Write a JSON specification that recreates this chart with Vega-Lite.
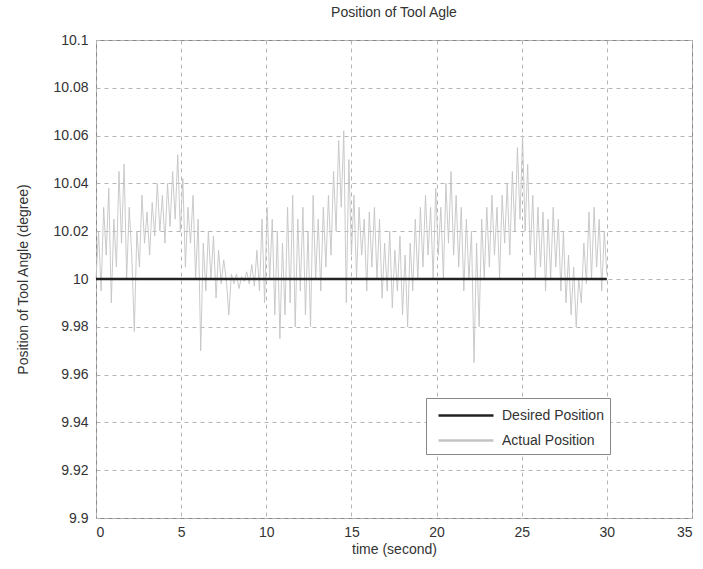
{
  "$schema": "https://vega.github.io/schema/vega-lite/v6.json",
  "autosize": "none",
  "width": 596,
  "height": 478,
  "padding": {"left": 96, "top": 40, "right": 11, "bottom": 51},
  "background": "white",
  "title": {"text": "Position of Tool Agle", "fontSize": 14, "fontWeight": "normal", "font": "Liberation Sans", "color": "#333", "offset": 13},
  "config": {
    "view": {"stroke": "#888", "strokeWidth": 1},
    "axis": {"font": "Liberation Sans", "labelFont": "Liberation Sans", "titleFont": "Liberation Sans", "labelFontSize": 14, "titleFontSize": 14, "titleFontWeight": "normal", "labelColor": "#333", "titleColor": "#333", "domain": false, "ticks": false, "gridColor": "#b5b5b5", "gridDash": [4, 4], "gridWidth": 1}
  },
  "datasets": {
    "desired": [{"t": 0, "v": 10}, {"t": 30, "v": 10}],
    "actual": [
      {"t":0.00,"v":10.000},{"t":0.15,"v":10.020},{"t":0.30,"v":9.995},{"t":0.45,"v":10.030},{"t":0.60,"v":10.010},{"t":0.75,"v":10.038},{"t":0.90,"v":9.990},{"t":1.05,"v":10.025},{"t":1.20,"v":10.005},{"t":1.35,"v":10.045},
      {"t":1.50,"v":10.015},{"t":1.65,"v":10.048},{"t":1.80,"v":10.000},{"t":1.95,"v":10.030},{"t":2.10,"v":10.010},{"t":2.25,"v":9.978},{"t":2.40,"v":10.020},{"t":2.55,"v":10.005},{"t":2.70,"v":10.035},{"t":2.85,"v":10.015},
      {"t":3.00,"v":10.028},{"t":3.15,"v":10.010},{"t":3.30,"v":10.032},{"t":3.45,"v":10.018},{"t":3.60,"v":10.040},{"t":3.75,"v":10.020},{"t":3.90,"v":10.035},{"t":4.05,"v":10.015},{"t":4.20,"v":10.040},{"t":4.35,"v":10.022},
      {"t":4.50,"v":10.045},{"t":4.65,"v":10.025},{"t":4.80,"v":10.052},{"t":4.95,"v":10.020},{"t":5.10,"v":10.042},{"t":5.25,"v":10.005},{"t":5.40,"v":10.030},{"t":5.55,"v":10.015},{"t":5.70,"v":10.035},{"t":5.85,"v":10.000},
      {"t":6.00,"v":10.025},{"t":6.15,"v":9.970},{"t":6.30,"v":10.015},{"t":6.45,"v":9.995},{"t":6.60,"v":10.020},{"t":6.75,"v":10.000},{"t":6.90,"v":10.018},{"t":7.05,"v":9.992},{"t":7.20,"v":10.012},{"t":7.35,"v":9.998},
      {"t":7.50,"v":10.008},{"t":7.65,"v":10.000},{"t":7.80,"v":9.985},{"t":7.95,"v":10.002},{"t":8.10,"v":9.998},{"t":8.25,"v":10.002},{"t":8.40,"v":9.996},{"t":8.55,"v":10.001},{"t":8.70,"v":9.999},{"t":8.85,"v":10.003},
      {"t":9.00,"v":9.998},{"t":9.15,"v":10.006},{"t":9.30,"v":9.997},{"t":9.45,"v":10.012},{"t":9.60,"v":9.995},{"t":9.75,"v":10.025},{"t":9.90,"v":9.990},{"t":10.05,"v":10.030},{"t":10.20,"v":10.000},{"t":10.35,"v":10.025},
      {"t":10.50,"v":9.985},{"t":10.65,"v":10.020},{"t":10.80,"v":9.975},{"t":10.95,"v":10.015},{"t":11.10,"v":9.985},{"t":11.25,"v":10.030},{"t":11.40,"v":9.990},{"t":11.55,"v":10.035},{"t":11.70,"v":9.980},{"t":11.85,"v":10.025},
      {"t":12.00,"v":9.995},{"t":12.15,"v":10.030},{"t":12.30,"v":9.985},{"t":12.45,"v":10.020},{"t":12.60,"v":9.980},{"t":12.75,"v":10.035},{"t":12.90,"v":10.000},{"t":13.05,"v":10.025},{"t":13.20,"v":9.995},{"t":13.35,"v":10.030},
      {"t":13.50,"v":10.005},{"t":13.65,"v":10.035},{"t":13.80,"v":10.010},{"t":13.95,"v":10.045},{"t":14.10,"v":10.020},{"t":14.25,"v":10.058},{"t":14.40,"v":10.030},{"t":14.55,"v":10.062},{"t":14.70,"v":9.990},{"t":14.85,"v":10.050},
      {"t":15.00,"v":10.010},{"t":15.15,"v":10.035},{"t":15.30,"v":10.000},{"t":15.45,"v":10.030},{"t":15.60,"v":10.010},{"t":15.75,"v":10.025},{"t":15.90,"v":9.995},{"t":16.05,"v":10.028},{"t":16.20,"v":10.005},{"t":16.35,"v":10.030},
      {"t":16.50,"v":10.000},{"t":16.65,"v":10.025},{"t":16.80,"v":9.992},{"t":16.95,"v":10.015},{"t":17.10,"v":9.995},{"t":17.25,"v":10.020},{"t":17.40,"v":9.988},{"t":17.55,"v":10.012},{"t":17.70,"v":9.995},{"t":17.85,"v":10.018},
      {"t":18.00,"v":9.985},{"t":18.15,"v":10.010},{"t":18.30,"v":9.980},{"t":18.45,"v":10.015},{"t":18.60,"v":9.995},{"t":18.75,"v":10.025},{"t":18.90,"v":10.000},{"t":19.05,"v":10.030},{"t":19.20,"v":10.005},{"t":19.35,"v":10.035},
      {"t":19.50,"v":10.010},{"t":19.65,"v":10.030},{"t":19.80,"v":10.000},{"t":19.95,"v":10.038},{"t":20.10,"v":10.010},{"t":20.25,"v":10.030},{"t":20.40,"v":10.000},{"t":20.55,"v":10.040},{"t":20.70,"v":10.015},{"t":20.85,"v":10.045},
      {"t":21.00,"v":10.010},{"t":21.15,"v":10.035},{"t":21.30,"v":10.005},{"t":21.45,"v":10.030},{"t":21.60,"v":9.995},{"t":21.75,"v":10.025},{"t":21.90,"v":10.000},{"t":22.05,"v":10.020},{"t":22.20,"v":9.965},{"t":22.35,"v":10.015},
      {"t":22.50,"v":9.980},{"t":22.65,"v":10.025},{"t":22.80,"v":10.000},{"t":22.95,"v":10.030},{"t":23.10,"v":10.005},{"t":23.25,"v":10.035},{"t":23.40,"v":10.010},{"t":23.55,"v":10.030},{"t":23.70,"v":10.000},{"t":23.85,"v":10.035},
      {"t":24.00,"v":10.015},{"t":24.15,"v":10.040},{"t":24.30,"v":10.010},{"t":24.45,"v":10.045},{"t":24.60,"v":10.020},{"t":24.75,"v":10.055},{"t":24.90,"v":10.025},{"t":25.05,"v":10.060},{"t":25.20,"v":10.020},{"t":25.35,"v":10.048},
      {"t":25.50,"v":10.010},{"t":25.65,"v":10.035},{"t":25.80,"v":10.000},{"t":25.95,"v":10.030},{"t":26.10,"v":10.005},{"t":26.25,"v":10.028},{"t":26.40,"v":9.995},{"t":26.55,"v":10.025},{"t":26.70,"v":10.000},{"t":26.85,"v":10.030},
      {"t":27.00,"v":10.005},{"t":27.15,"v":10.025},{"t":27.30,"v":9.995},{"t":27.45,"v":10.020},{"t":27.60,"v":9.990},{"t":27.75,"v":10.010},{"t":27.90,"v":9.985},{"t":28.05,"v":10.005},{"t":28.20,"v":9.980},{"t":28.35,"v":10.000},
      {"t":28.50,"v":9.990},{"t":28.65,"v":10.015},{"t":28.80,"v":9.998},{"t":28.95,"v":10.028},{"t":29.10,"v":10.000},{"t":29.25,"v":10.030},{"t":29.40,"v":10.005},{"t":29.55,"v":10.025},{"t":29.70,"v":9.995},{"t":29.85,"v":10.020},
      {"t":30.00,"v":10.002}
    ]
  },
  "encoding": {
    "x": {"field": "t", "type": "quantitative", "scale": {"domain": [0, 35], "nice": false, "zero": false}, "axis": {"values": [0,5,10,15,20,25,30,35], "title": "time (second)", "labelPadding": 7, "titlePadding": 3, "grid": true}},
    "y": {"field": "v", "type": "quantitative", "scale": {"domain": [9.9, 10.1], "nice": false, "zero": false}, "axis": {"values": [9.9,9.92,9.94,9.96,9.98,10,10.02,10.04,10.06,10.08,10.1], "format": "~g", "title": "Position of Tool Angle (degree)", "labelPadding": 8, "titlePadding": 22, "grid": true}}
  },
  "layer": [
    {
      "data": {"name": "actual"},
      "mark": {"type": "line", "strokeWidth": 0.9, "interpolate": "linear"},
      "encoding": {
        "color": {"datum": "Actual Position", "type": "nominal", "scale": {"domain": ["Desired Position", "Actual Position"], "range": ["#222222", "#c4c4c4"]},
          "legend": {"title": null, "orient": "none", "legendX": 330, "legendY": 358, "padding": 6, "rowPadding": 6, "symbolType": "M-0.5,0H5", "symbolSize": 400, "symbolStrokeWidth": 2.5, "symbolFillColor": "transparent", "labelOffset": 47, "labelFontSize": 14, "labelFont": "Liberation Sans", "labelColor": "#333", "strokeColor": "#888", "fillColor": "white", "labelLimit": 300}}
      }
    },
    {
      "data": {"name": "desired"},
      "mark": {"type": "line", "strokeWidth": 2.5},
      "encoding": {
        "color": {"datum": "Desired Position", "type": "nominal"}
      }
    }
  ]
}
